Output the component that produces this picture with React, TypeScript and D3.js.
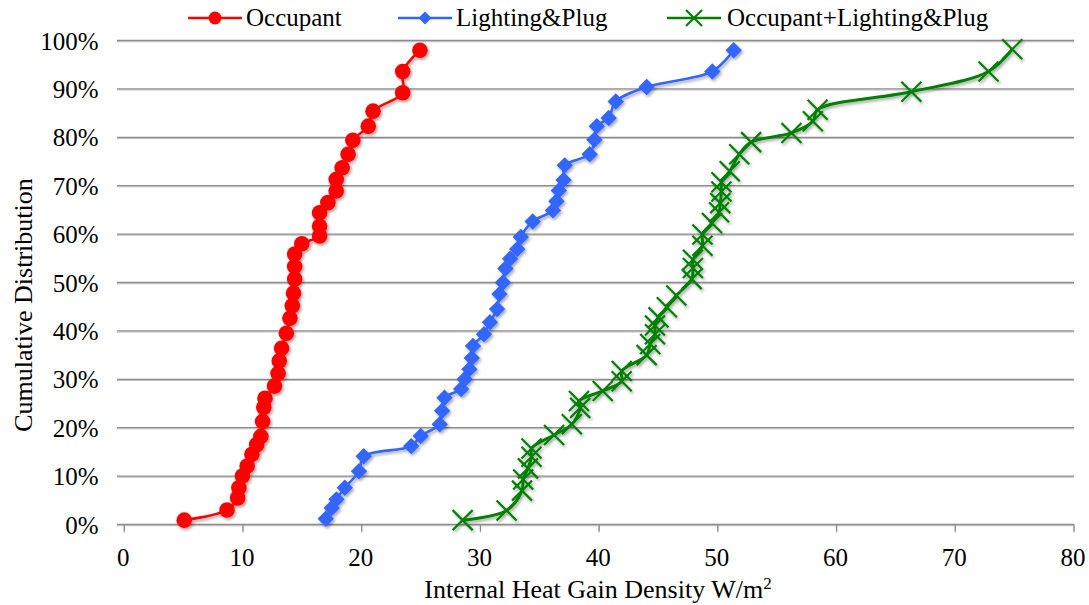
import React from 'react';
import * as d3 from 'd3';

const occupantX = [5.05, 8.65, 9.55, 9.65, 9.95, 10.35, 10.75, 11.15, 11.5, 11.65, 11.75, 11.85, 12.65, 12.95, 13.05, 13.25, 13.65, 13.95, 14.15, 14.25, 14.35, 14.35, 14.35, 14.95, 16.45, 16.45, 16.45, 17.15, 17.85, 17.85, 18.35, 18.85, 19.25, 20.55, 20.95, 23.45, 23.45, 24.9];
const occupantY = [0.9, 3.0, 5.5, 7.6, 10.0, 12.1, 14.5, 16.5, 18.2, 21.3, 24.2, 26.1, 28.6, 31.2, 33.8, 36.4, 39.5, 42.6, 45.2, 47.8, 50.7, 53.3, 55.9, 58.0, 59.6, 61.6, 64.4, 66.5, 68.9, 71.3, 73.7, 76.5, 79.4, 82.3, 85.4, 89.2, 93.6, 98.0];

const lightingX = [16.97, 17.47, 17.87, 18.57, 19.77, 20.17, 24.17, 24.97, 26.57, 26.77, 26.97, 28.37, 28.67, 29.07, 29.27, 29.37, 30.3, 30.8, 31.4, 31.6, 31.9, 32.1, 32.5, 33.1, 33.4, 34.4, 36.1, 36.4, 36.6, 37.0, 37.1, 39.2, 39.6, 39.8, 40.8, 41.4, 44.0, 49.53, 51.33];
const lightingY = [1.2, 3.4, 5.2, 7.6, 11.0, 14.1, 16.2, 18.3, 20.7, 23.5, 26.2, 28.0, 30.0, 32.1, 34.4, 36.9, 39.3, 41.8, 44.5, 47.6, 50.0, 52.9, 54.9, 56.9, 59.4, 62.6, 64.9, 66.8, 69.0, 71.2, 74.2, 76.5, 79.5, 82.3, 84.0, 87.4, 90.4, 93.6, 98.0];

const totalX = [28.5, 32.2, 33.5, 33.6, 34.0, 34.3, 34.3, 36.2, 37.7, 38.4, 38.3, 40.3, 41.9, 41.9, 44.0, 44.3, 44.7, 44.7, 45.0, 45.7, 46.5, 47.8, 47.9, 47.9, 48.7, 48.7, 49.5, 50.1, 50.2, 50.3, 50.3, 51.0, 51.8, 52.8, 56.2, 58.0, 58.4, 66.3, 72.8, 74.8];
const totalY = [0.9, 2.9, 7.0, 9.3, 11.6, 14.0, 15.7, 18.5, 20.7, 24.1, 25.5, 27.6, 29.6, 31.7, 35.0, 37.3, 39.3, 41.1, 42.8, 44.9, 47.3, 50.7, 53.0, 54.7, 57.6, 59.9, 62.3, 64.5, 66.4, 68.8, 70.7, 73.0, 76.5, 79.0, 80.9, 83.3, 85.7, 89.4, 93.6, 98.2];

const seriesNames = ['Occupant', 'Lighting&Plug', 'Occupant+Lighting&Plug'];
const seriesColors = ['#ff0000', '#3366ff', '#008000'];
const xTicks = [0, 10, 20, 30, 40, 50, 60, 70, 80];
const yTicks = [0, 10, 20, 30, 40, 50, 60, 70, 80, 90, 100];

const FONT = '"Liberation Serif", "Times New Roman", serif';

function Marker({ kind, cx, cy, color, s }: { kind: number; cx: number; cy: number; color: string; s: number }) {
  if (kind === 0) return <circle cx={cx} cy={cy} r={s} fill={color} />;
  if (kind === 1)
    return <path d={`M${cx},${cy - s}L${cx + s},${cy}L${cx},${cy + s}L${cx - s},${cy}Z`} fill={color} />;
  return (
    <path
      d={`M${cx - s},${cy - s}L${cx + s},${cy + s}M${cx - s},${cy + s}L${cx + s},${cy - s}`}
      stroke={color}
      strokeWidth={2.2}
      fill="none"
    />
  );
}

export default function App() {
  const W = 1089;
  const H = 605;
  const x = d3.scaleLinear().domain([0, 80]).range([124.3, 1074]);
  const y = d3.scaleLinear().domain([0, 100]).range([524.5, 40.5]);

  const data = [
    occupantX.map((v, i) => [v, occupantY[i]] as [number, number]),
    lightingX.map((v, i) => [v, lightingY[i]] as [number, number]),
    totalX.map((v, i) => [v, totalY[i]] as [number, number]),
  ];
  const line = d3
    .line<[number, number]>()
    .x((d) => x(d[0]))
    .y((d) => y(d[1]))
    .curve(d3.curveCatmullRom.alpha(0.5));

  const markerSize = [7.8, 8.2, 10];
  const lineWidth = [2.6, 2.6, 3];

  const legendItems = [
    { lx: 188, tx: 246 },
    { lx: 398, tx: 456 },
    { lx: 667, tx: 727 },
  ];

  return (
    <svg width={W} height={H} style={{ position: 'absolute', left: 0, top: 0, background: '#fff' }} fontFamily={FONT}>
      <defs>
        <filter id="sh" x="-20%" y="-20%" width="140%" height="140%">
          <feDropShadow dx="1.5" dy="2" stdDeviation="1.4" floodColor="#000" floodOpacity="0.35" />
        </filter>
        <filter id="gsh" x="-5%" y="-50%" width="110%" height="200%">
          <feDropShadow dx="0" dy="1" stdDeviation="0.6" floodColor="#000" floodOpacity="0.25" />
        </filter>
      </defs>
      <rect x={0} y={0} width={W} height={H} fill="#fff" />
      <g filter="url(#gsh)">
        {yTicks.map((t) => (
          <line key={t} x1={117} x2={x(80)} y1={y(t)} y2={y(t)} stroke="#8c8c8c" strokeWidth={1.3} />
        ))}
        {xTicks.map((t) => (
          <line key={t} x1={x(t)} x2={x(t)} y1={y(0)} y2={y(0) + 7} stroke="#8c8c8c" strokeWidth={1.3} />
        ))}
      </g>
      {yTicks.map((t) => (
        <text key={t} x={98.5} y={y(t) + 9} textAnchor="end" fontSize={25} fill="#000">
          {t}%
        </text>
      ))}
      {xTicks.map((t) => (
        <text key={t} x={x(t) - 1} y={565.5} textAnchor="middle" fontSize={25} fill="#000">
          {t}
        </text>
      ))}
      <text x={598} y={598} textAnchor="middle" fontSize={26} fill="#000">
        Internal Heat Gain Density W/m<tspan fontSize={17} dy={-9}>2</tspan>
      </text>
      <text transform="translate(32,305) rotate(-90)" textAnchor="middle" fontSize={26} fill="#000">
        Cumulative Distribution
      </text>

      {data.map((pts, si) => (
        <g key={si} filter="url(#sh)">
          <path d={line(pts) || ''} fill="none" stroke={seriesColors[si]} strokeWidth={lineWidth[si]} />
          {pts.map((p, i) => (
            <Marker key={i} kind={si} cx={x(p[0])} cy={y(p[1])} color={seriesColors[si]} s={markerSize[si]} />
          ))}
        </g>
      ))}

      {legendItems.map((it, si) => (
        <g key={si}>
          <line x1={it.lx} x2={it.lx + 54} y1={18} y2={18} stroke={seriesColors[si]} strokeWidth={2.6} />
          <Marker kind={si} cx={it.lx + 27} cy={18} color={seriesColors[si]} s={si === 2 ? 8 : 6.5} />
          <text x={it.tx} y={26} fontSize={25} fill="#000">
            {seriesNames[si]}
          </text>
        </g>
      ))}
    </svg>
  );
}
